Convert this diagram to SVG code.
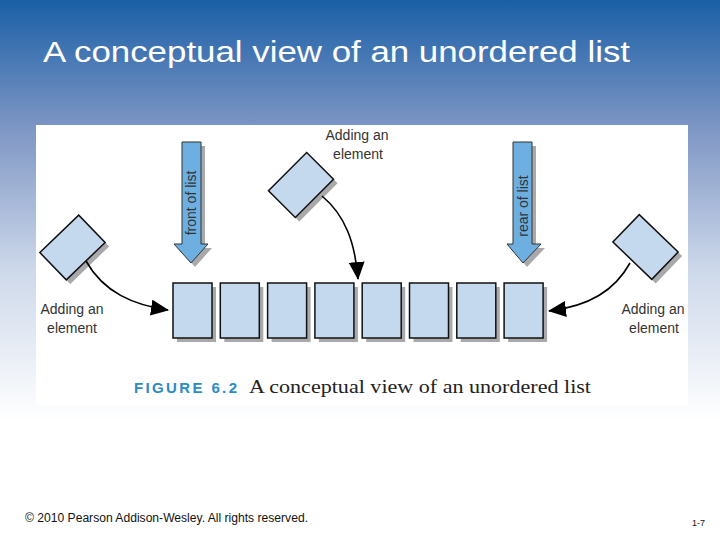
<svg xmlns="http://www.w3.org/2000/svg" width="720" height="540" viewBox="0 0 720 540">
<defs>
<linearGradient id="bg" x1="0" y1="0" x2="0" y2="1">
<stop offset="0" stop-color="#1a5fa6"/>
<stop offset="0.24" stop-color="#7f97c5"/>
<stop offset="0.5" stop-color="#cdd8ea"/>
<stop offset="0.78" stop-color="#ffffff"/>
<stop offset="1" stop-color="#ffffff"/>
</linearGradient>
<marker id="ah" markerUnits="userSpaceOnUse" markerWidth="18" markerHeight="16" refX="17" refY="8" orient="auto">
<path d="M0,0 L18,8 L0,16 z" fill="#000"/>
</marker>
<rect id="cell" width="39" height="55"/>
<rect id="dia" x="-27" y="-19" width="54" height="38"/>
</defs>
<style>
.cell{fill:#c5d9ee;stroke:#111;stroke-width:1.5}
.shadow{fill:#a9a9ab}
.blk{fill:#6dafe1;stroke:#333;stroke-width:1}
.lbl{font-family:"Liberation Sans",Arial,sans-serif;font-size:14px;fill:#333}
.arr{fill:none;stroke:#000;stroke-width:1.6;marker-end:url(#ah)}
</style>
<rect x="0" y="0" width="720" height="540" fill="url(#bg)"/>
<rect x="36" y="125" width="652" height="280" fill="#ffffff"/>
<text x="43" y="62" font-family="Liberation Sans,Arial,sans-serif" font-size="29" fill="#ffffff" textLength="587" lengthAdjust="spacingAndGlyphs">A conceptual view of an unordered list</text>

<g id="list">
<use href="#cell" x="177" y="287" class="shadow"/><use href="#cell" x="173" y="283" class="cell"/>
<use href="#cell" x="224.3" y="287" class="shadow"/><use href="#cell" x="220.3" y="283" class="cell"/>
<use href="#cell" x="271.6" y="287" class="shadow"/><use href="#cell" x="267.6" y="283" class="cell"/>
<use href="#cell" x="318.9" y="287" class="shadow"/><use href="#cell" x="314.9" y="283" class="cell"/>
<use href="#cell" x="366.2" y="287" class="shadow"/><use href="#cell" x="362.2" y="283" class="cell"/>
<use href="#cell" x="413.5" y="287" class="shadow"/><use href="#cell" x="409.5" y="283" class="cell"/>
<use href="#cell" x="460.8" y="287" class="shadow"/><use href="#cell" x="456.8" y="283" class="cell"/>
<use href="#cell" x="508.1" y="287" class="shadow"/><use href="#cell" x="504.1" y="283" class="cell"/>
</g>

<g id="front">
<polygon class="shadow" points="186,146 205,146 205,248 212,248 195,267 178,248 186,248"/>
<polygon class="blk" points="182,142 201,142 201,244 208,244 191,263 174,244 182,244"/>
<text class="lbl" transform="translate(196,203) rotate(-90)" text-anchor="middle" fill="#222">front of list</text>
</g>
<g id="rear">
<polygon class="shadow" points="517,146 536,146 536,248 545,248 527,267 511,248 517,248"/>
<polygon class="blk" points="513,142 532,142 532,244 541,244 523,263 507,244 513,244"/>
<text class="lbl" transform="translate(528,206) rotate(-90)" text-anchor="middle" fill="#222">rear of list</text>
</g>

<g id="add-left">
<use href="#dia" class="shadow" transform="translate(76.5,251.5) rotate(-44)"/>
<use href="#dia" class="cell" transform="translate(72.5,247.5) rotate(-44)"/>
<text class="lbl" x="72" y="314" text-anchor="middle">Adding an</text>
<text class="lbl" x="72" y="333" text-anchor="middle">element</text>
</g>
<g id="add-top">
<use href="#dia" class="shadow" transform="translate(305,189) rotate(-45)"/>
<use href="#dia" class="cell" transform="translate(301,185) rotate(-45)"/>
<text class="lbl" x="357" y="140" text-anchor="middle">Adding an</text>
<text class="lbl" x="358" y="159" text-anchor="middle">element</text>
</g>
<g id="add-right">
<use href="#dia" class="shadow" transform="translate(649.5,251) rotate(44)"/>
<use href="#dia" class="cell" transform="translate(645.5,247) rotate(44)"/>
<text class="lbl" x="653" y="314" text-anchor="middle">Adding an</text>
<text class="lbl" x="654" y="333" text-anchor="middle">element</text>
</g>

<g id="connectors">
<path class="arr" d="M86,261 C104,293 134,305 168,310"/>
<path class="arr" d="M322,196 C345,215 355,242 358,279"/>
<path class="arr" d="M630,263 C615,290 590,306 549,311"/>
</g>

<text x="134" y="393" font-family="Liberation Sans,Arial,sans-serif" font-weight="bold" font-size="15" fill="#2b8bc4" textLength="103" lengthAdjust="spacing">FIGURE 6.2</text>
<text x="249" y="393" font-family="Liberation Serif,Times New Roman,serif" font-size="19" fill="#222" textLength="342" lengthAdjust="spacingAndGlyphs">A conceptual view of an unordered list</text>

<text x="25" y="522" font-family="Liberation Sans,Arial,sans-serif" font-size="12" fill="#111" textLength="283" lengthAdjust="spacingAndGlyphs">© 2010 Pearson Addison-Wesley. All rights reserved.</text>
<text x="692" y="526" font-family="Liberation Sans,Arial,sans-serif" font-size="9" fill="#111">1-7</text>
</svg>
